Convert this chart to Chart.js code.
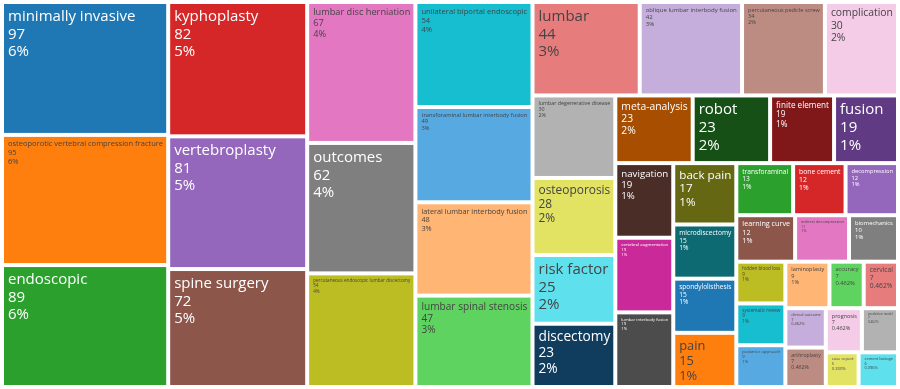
<!DOCTYPE html>
<html>
<head>
<meta charset="utf-8">
<script src="https://cdn.jsdelivr.net/npm/chart.js@4/dist/chart.umd.min.js"></script>
<style>
html,body{margin:0;padding:0;background:#ffffff;}
#wrap{width:900px;height:389px;position:relative;}
</style>
</head>
<body>
<div id="wrap"><canvas id="c" width="900" height="389"></canvas></div>
<script>
// ---- data (layout order, largest first) ----
const labels = [
  "minimally invasive","osteoporotic vertebral compression fracture","endoscopic","kyphoplasty","vertebroplasty",
  "spine surgery","lumbar disc herniation","outcomes","percutaneous endoscopic lumbar discectomy","unilateral biportal endoscopic",
  "transforaminal lumbar interbody fusion","lateral lumbar interbody fusion","lumbar spinal stenosis","lumbar","oblique lumbar interbody fusion",
  "percutaneous pedicle screw","complication","lumbar degenerative disease","osteoporosis","risk factor",
  "discectomy","meta-analysis","robot","finite element","fusion",
  "navigation","vertebral augmentation","lumbar interbody fusion","back pain","microdiscectomy",
  "spondylolisthesis","pain","transforaminal","bone cement","decompression",
  "learning curve","indirect decompression","biomechanics","hidden blood loss","systematic review",
  "posterior approach","laminoplasty","accuracy","cervical","clinical outcome",
  "arthroplasty","prognosis","prediction model","case report","cement leakage"
];
const values = [
  97,95,89,82,81,
  72,67,62,54,54,
  49,48,47,44,42,
  34,30,30,28,25,
  23,23,23,19,19,
  19,19,19,17,15,
  15,15,13,12,12,
  12,11,10,9,9,
  9,9,7,7,7,
  7,7,7,5,6
];

// ---- styles ----
const baseColors = ['#1f77b4','#ff7f0e','#2ca02c','#d62728','#9467bd','#8c564b','#e377c2','#7f7f7f','#bcbd22','#17becf'];

function hexToRgb(h){h=h.replace('#','');return [parseInt(h.substr(0,2),16),parseInt(h.substr(2,2),16),parseInt(h.substr(4,2),16)];}
function rgbToHsl(r,g,b){r/=255;g/=255;b/=255;const mx=Math.max(r,g,b),mn=Math.min(r,g,b);let h=0,s=0;const l=(mx+mn)/2;
  if(mx!==mn){const d=mx-mn;s=l>0.5?d/(2-mx-mn):d/(mx+mn);
    if(mx===r)h=(g-b)/d+(g<b?6:0);else if(mx===g)h=(b-r)/d+2;else h=(r-g)/d+4;h/=6;}
  return [h,s,l];}
function hue2rgb(p,q,t){if(t<0)t+=1;if(t>1)t-=1;if(t<1/6)return p+(q-p)*6*t;if(t<1/2)return q;if(t<2/3)return p+(q-p)*(2/3-t)*6;return p;}
function hslToRgb(h,s,l){let r,g,b;if(s===0){r=g=b=l;}else{const q=l<0.5?l*(1+s):l+s-l*s;const p=2*l-q;r=hue2rgb(p,q,h+1/3);g=hue2rgb(p,q,h);b=hue2rgb(p,q,h-1/3);}
  return [Math.round(r*255),Math.round(g*255),Math.round(b*255)];}
function shift(hex,amt){const [r,g,b]=hexToRgb(hex);const [h,s,l]=rgbToHsl(r,g,b);const nl=Math.min(1,Math.max(0,l+amt));return hslToRgb(h,s,nl);}
// extended colorway: base, lighter, darker — cycled over the cells
const extPalette = [];
baseColors.forEach(c=>extPalette.push(hexToRgb(c)));
baseColors.forEach(c=>extPalette.push(shift(c,0.2)));
baseColors.forEach(c=>extPalette.push(shift(c,-0.2)));

const total = values.reduce((a,b)=>a+b,0);

function pctText(v){
  const p = v/total*100;
  if (Math.round(p) >= 1) return Math.round(p) + '%';
  return p.toFixed(3) + '%';
}

// d3-style squarify (ratio 1)
function squarify(vals, W, H){
  const nodes = vals.map((v,i)=>({value:v,i:i}));
  let x0=0,y0=0,x1=W,y1=H;
  let value = vals.reduce((a,b)=>a+b,0);
  const n = nodes.length; let i0=0,i1=0;
  const ratio = 1;
  while(i0<n){
    const dx=x1-x0, dy=y1-y0;
    let sumValue = nodes[i1++].value;
    let minValue=sumValue, maxValue=sumValue;
    const alpha = Math.max(dy/dx, dx/dy)/(value*ratio);
    let beta = sumValue*sumValue*alpha;
    let minRatio = Math.max(maxValue/beta, beta/minValue);
    for(; i1<n; ++i1){
      const nv = nodes[i1].value;
      sumValue += nv;
      if(nv<minValue)minValue=nv;
      if(nv>maxValue)maxValue=nv;
      beta = sumValue*sumValue*alpha;
      const newRatio = Math.max(maxValue/beta, beta/minValue);
      if(newRatio>minRatio){sumValue-=nv;break;}
      minRatio=newRatio;
    }
    const row = nodes.slice(i0,i1);
    if(dx<dy){ // dice: row across the top
      const ny = value ? y0 + dy*sumValue/value : y1;
      let xx = x0; const k = (x1-x0)/sumValue;
      row.forEach(nd=>{nd.x0=xx;nd.x1=xx+=nd.value*k;nd.y0=y0;nd.y1=ny;});
      y0 = ny;
    } else { // slice: column on the left
      const nx = value ? x0 + dx*sumValue/value : x1;
      let yy = y0; const k = (y1-y0)/sumValue;
      row.forEach(nd=>{nd.y0=yy;nd.y1=yy+=nd.value*k;nd.x0=x0;nd.x1=nx;});
      x0 = nx;
    }
    value -= sumValue; i0 = i1;
  }
  return nodes;
}

const FONT = '"Open Sans", "DejaVu Sans", sans-serif';

const treemapPlugin = {
  id: 'treemapCells',
  afterDatasetsDraw(chart){
    const ctx = chart.ctx, ca = chart.chartArea;
    const xs = chart.scales.x, ys = chart.scales.y;
    const W = ca.right-ca.left, H = ca.bottom-ca.top;
    const nodes = squarify(values, W, H);
    const gap = 2;
    ctx.save();
    nodes.forEach(nd=>{
      const px0 = xs.getPixelForValue(nd.x0/W) + gap;
      const px1 = xs.getPixelForValue(nd.x1/W) - gap;
      const py0 = ys.getPixelForValue(nd.y0/H) + gap;
      const py1 = ys.getPixelForValue(nd.y1/H) - gap;
      const w = px1-px0, h = py1-py0;
      const rgb = extPalette[nd.i % 30];
      ctx.fillStyle = 'rgb('+rgb.join(',')+')';
      ctx.fillRect(px0,py0,w,h);
      const bright = (rgb[0]*299+rgb[1]*587+rgb[2]*114)/1000;
      const tcol = bright >= 128 ? '#444444' : '#ffffff';
      const lines = [labels[nd.i], String(values[nd.i]), pctText(values[nd.i])];
      const base = 15, lh = 1.17;
      ctx.font = base + 'px ' + FONT;
      let mw = 0; lines.forEach(t=>{mw=Math.max(mw, ctx.measureText(t).width);});
      let size = base;
      const availW = w - 7;
      if (mw > availW) size = base*availW/mw;
      const needH = size*(1 + lh*(lines.length-1)) + size*0.3 + 4;
      if (needH > h) size = size*h/needH;
      if (size < 1) return;
      ctx.save();
      ctx.beginPath(); ctx.rect(px0,py0,w,h); ctx.clip();
      ctx.fillStyle = tcol;
      ctx.font = size.toFixed(2) + 'px ' + FONT;
      ctx.textBaseline = 'alphabetic';
      ctx.textAlign = 'left';
      lines.forEach((t,k)=>{
        ctx.fillText(t, px0 + 4, py0 + 2 + size*(1 + lh*k));
      });
      ctx.restore();
    });
    ctx.restore();
  }
};

new Chart(document.getElementById('c'), {
  type: 'scatter',
  data: { datasets: [{ data: [], pointRadius: 0 }] },
  options: {
    responsive: false,
    devicePixelRatio: 1,
    animation: false,
    layout: { padding: { left: 2, right: 2, top: 2, bottom: 2 } },
    scales: {
      x: { type: 'linear', min: 0, max: 1, display: false },
      y: { type: 'linear', min: 0, max: 1, reverse: true, display: false }
    },
    plugins: { legend: { display: false }, tooltip: { enabled: false } }
  },
  plugins: [treemapPlugin]
});
</script>
</body>
</html>
